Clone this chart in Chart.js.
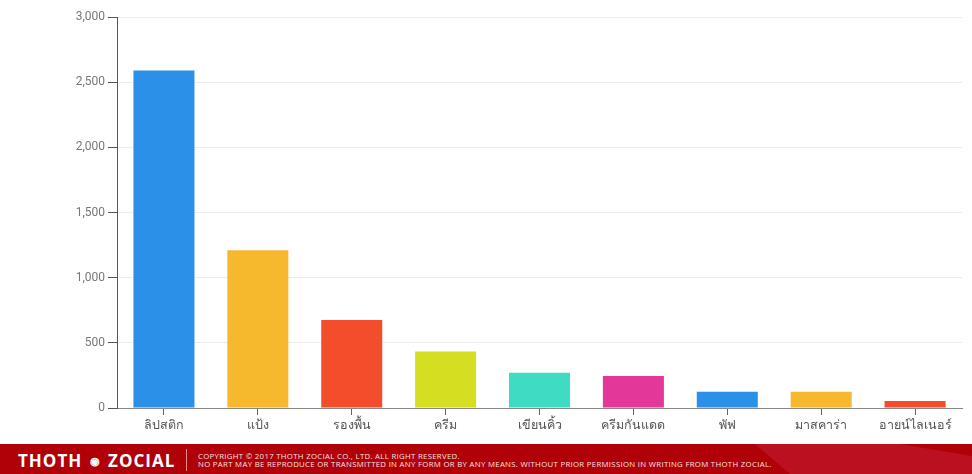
<!doctype html>
<html lang="th">
<head>
    <meta charset="UTF-8"/>
    <script src="https://cdn.jsdelivr.net/npm/chart.js@4/dist/chart.umd.min.js"></script>
    <title>Cosmetics chart</title>
    <style>
        html, body { margin: 0; padding: 0; background: #fff; }
        #wrap { position: relative; width: 972px; height: 444px; }
        #footer {
            position: relative; width: 972px; height: 30px; overflow: hidden;
            background: #b00008; color: #fff; font-family: "Open Sans", "Noto Sans", sans-serif;
        }
        #footer .shine {
            position: absolute; left: 0; top: 0; width: 972px; height: 30px;
            background: #c0172a; clip-path: polygon(755px 0, 900px 0, 972px 12px, 972px 30px, 790px 30px);
            opacity: 0.7;
        }
        #footer .logo {
            position: absolute; left: 18px; top: 5px; font-size: 17px; font-weight: bold;
            letter-spacing: 1px; white-space: nowrap;
        }
        #footer .logo span { font-size: 11px; position: relative; top: -2px; margin: 0 2px; }
        #footer .sep { position: absolute; left: 186px; top: 5px; width: 1px; height: 22px; background: #e58a8a; }
        #footer .copy {
            position: absolute; left: 198px; top: 8px; font-size: 7.8px; line-height: 8px;
            letter-spacing: 0.3px; white-space: nowrap; color: #f7e0e0;
        }
    </style>
</head>
<body>
<div id="wrap"><canvas id="barChart"></canvas></div>
<div id="footer">
    <div class="shine"></div>
    <div class="logo">THOTH <span>◉</span> ZOCIAL</div>
    <div class="sep"></div>
    <div class="copy">COPYRIGHT © 2017 THOTH ZOCIAL CO., LTD. ALL RIGHT RESERVED.<br>NO PART MAY BE REPRODUCE OR TRANSMITTED IN ANY FORM OR BY ANY MEANS. WITHOUT PRIOR PERMISSION IN WRITING FROM THOTH ZOCIAL.</div>
</div>

<script>
    const categories = ['ลิปสติก', 'แป้ง', 'รองพื้น', 'ครีม', 'เขียนคิ้ว', 'ครีมกันแดด', 'พัฟ', 'มาสคาร่า', 'อายน์ไลเนอร์'];
    const mentions = [2590, 1210, 675, 433, 270, 245, 124, 124, 54];
    const barColors = ['#2b91e8', '#f6b92d', '#f44d2b', '#d6de22', '#3edcc3', '#e3389a', '#2b91e8', '#f6b92d', '#f44d2b'];
    const yTicks = [0, 500, 1000, 1500, 2000, 2500, 3000];

    const ctx = document.getElementById('barChart').getContext('2d');

    new Chart(ctx, {
        type: 'bar',
        data: {
            labels: categories,
            datasets: [{
                data: mentions,
                backgroundColor: barColors,
                barPercentage: 0.65,
                categoryPercentage: 1
            }]
        },
        options: {
            responsive: true,
            maintainAspectRatio: false,
            animation: false,
            layout: {padding: {top: 17, right: 10, left: 0, bottom: 0}},
            plugins: {
                legend: {display: false},
                tooltip: {enabled: false}
            },
            scales: {
                x: {
                    grid: {
                        offset: false,
                        drawOnChartArea: false,
                        tickColor: '#666',
                        tickLength: 7
                    },
                    border: {color: '#888', width: 1},
                    ticks: {
                        color: '#555',
                        padding: 3,
                        font: {family: '"Noto Sans", "DejaVu Sans", sans-serif', size: 12.5}
                    },
                    afterFit: (scale) => { scale.height = 36; }
                },
                y: {
                    min: 0,
                    max: 3000,
                    afterBuildTicks: (scale) => { scale.ticks = yTicks.map(v => ({value: v})); },
                    grid: {
                        color: '#ececec',
                        tickColor: '#555',
                        tickLength: 9
                    },
                    border: {color: '#555', width: 1},
                    ticks: {
                        color: '#777',
                        padding: 3,
                        font: {family: 'Roboto, "Noto Sans", sans-serif', size: 12},
                        callback: (v) => v.toLocaleString('en-US')
                    },
                    afterFit: (scale) => { scale.width = 117; }
                }
            }
        }
    });
</script>
</body>
</html>
